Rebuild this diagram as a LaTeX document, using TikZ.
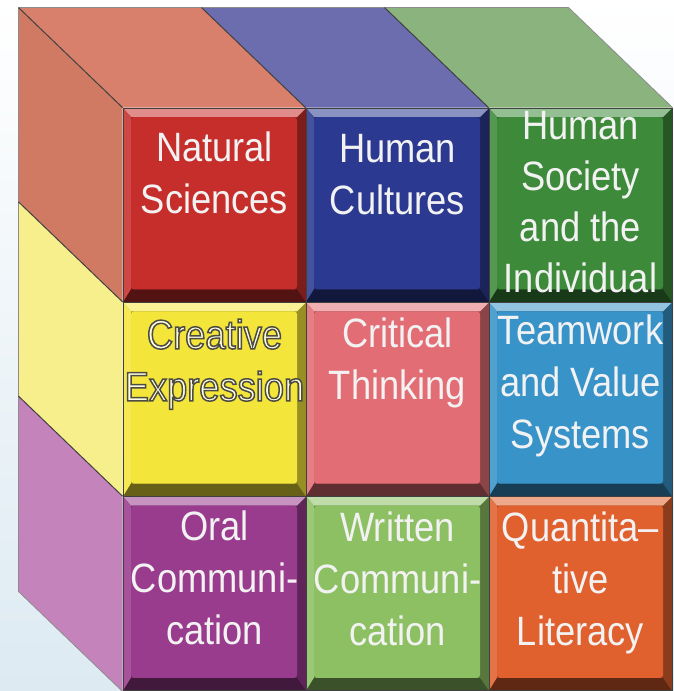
\documentclass[tikz,border=0pt]{standalone}
\usepackage{fontspec}
\usetikzlibrary{positioning,backgrounds}

\newfontfamily\cubefont{Liberation Sans}[FakeStretch=0.885]
% letters filled and stroked in one pass (text render mode 2)
\newcommand\outlined[1]{\special{pdf:literal direct 0.3 0.3 0.27 RG 1.5 w 2 Tr}#1\special{pdf:literal direct 0 Tr}}

\definecolor{natred}{HTML}{C62E2B}
\definecolor{cultblue}{HTML}{2B3990}
\definecolor{socgreen}{HTML}{3D8A3A}
\definecolor{creayellow}{HTML}{F4E53A}
\definecolor{critpink}{HTML}{E36D75}
\definecolor{teamblue}{HTML}{3893C9}
\definecolor{oralpurple}{HTML}{9A3C8E}
\definecolor{writgreen}{HTML}{8DC063}
\definecolor{quantorange}{HTML}{E0602E}
\definecolor{topred}{HTML}{D8806B}
\definecolor{topblue}{HTML}{6B6DAF}
\definecolor{topgreen}{HTML}{8BB37E}
\definecolor{sidered}{HTML}{D07A63}
\definecolor{sideyellow}{HTML}{F7EE8C}
\definecolor{sidepurple}{HTML}{C583BB}
\definecolor{bgblue}{HTML}{DDEAF2}

\begin{document}
\begin{tikzpicture}[
    x=1pt,y=-1pt,node distance=194.3pt and 183pt,on grid,
    cell/.style={rectangle,inner sep=0pt,minimum width=183pt,minimum height=194.3pt,
        fill=#1!62!black,draw=black!75,line width=1pt,
        path picture={
            \coordinate (nw) at (path picture bounding box.north west);
            \coordinate (ne) at (path picture bounding box.north east);
            \coordinate (sw) at (path picture bounding box.south west);
            \coordinate (se) at (path picture bounding box.south east);
            % bevelled rim: light on top, dark below
            \fill[#1!55!white] (nw) -- (ne) -- ([shift={(-9pt,-9pt)}]ne)
                -- ([shift={(8pt,-9pt)}]nw) -- cycle;
            \fill[#1!88!white] (nw) -- ([shift={(8pt,-9pt)}]nw)
                -- ([shift={(8pt,13pt)}]sw) -- (sw) -- cycle;
            \fill[#1!42!black] (sw) -- ([shift={(8pt,13pt)}]sw)
                -- ([shift={(-9pt,13pt)}]se) -- (se) -- cycle;
            \fill[#1,rounded corners=3pt] ([shift={(8pt,-9pt)}]nw)
                rectangle ([shift={(-9pt,13pt)}]se);
        }},
    caption/.style={anchor=north,inner sep=0pt,align=center,text=white!95!black,
        font=\cubefont\fontsize{41}{52}\selectfont},
    face/.style={draw=black!75,line width=1pt,line join=round},
    rim/.style={draw=black!45,line width=0.8pt,line join=round}
]
 \useasboundingbox (0,0) rectangle (674,691);

 % front of the cube
 \node[cell=natred] (nat) at (214.5,205.2) {};
 \node[cell=cultblue] (cult) [right=of nat] {};
 \node[cell=socgreen] (soc) [right=of cult] {};
 \node[cell=creayellow] (crea) [below=of nat] {};
 \node[cell=critpink] (crit) [right=of crea] {};
 \node[cell=teamblue] (team) [right=of crit] {};
 \node[cell=oralpurple] (oral) [below=of crea] {};
 \node[cell=writgreen] (writ) [right=of oral] {};
 \node[cell=quantorange] (quant) [right=of writ] {};

 \node[caption] (natT) at ([yshift=-24pt]nat.north) {Natural\\Sciences};
 \node[caption] (cultT) at ([yshift=-27pt]cult.north) {Human\\Cultures};
 \node[caption,font=\cubefont\fontsize{41}{51}\selectfont]
    (socT) at ([yshift=-4pt]soc.north) {Human\\Society\\and the\\Individual};
 \node[caption,text=white!88!yellow] (creaT) at ([yshift=-17pt]crea.north)
    {\outlined{Creative}\\\outlined{Expression}};
 \node[caption] (critT) at ([yshift=-16pt]crit.north) {Critical\\Thinking};
 \node[caption] (teamT) at ([yshift=-13pt]team.north) {Teamwork\\and Value\\Systems};
 \node[caption] (oralT) at ([yshift=-14pt]oral.north) {Oral\\Communi-\\cation};
 \node[caption] (writT) at ([yshift=-15pt]writ.north) {Written\\Communi-\\cation};
 \node[caption] (quantT) at ([yshift=-15pt]quant.north) {Quantita–\\tive\\Literacy};

 \begin{scope}[on background layer]
    \shade[top color=white,bottom color=bgblue] (0,0) rectangle (674,691);
    % top of the cube
    \fill[topred] (nat.north west) -- (nat.north east) -- ++(-104,-100)
        -- ([shift={(-104pt,100pt)}]nat.north west) -- cycle;
    \fill[topblue] (cult.north west) -- (cult.north east) -- ++(-104,-100)
        -- ([shift={(-104pt,100pt)}]cult.north west) -- cycle;
    \fill[topgreen] (soc.north west) -- (soc.north east) -- ++(-104,-100)
        -- ([shift={(-104pt,100pt)}]soc.north west) -- cycle;
    % left side of the cube
    \fill[sidered] (nat.north west) -- (nat.south west) -- ++(-104,-100)
        -- ([shift={(-104pt,100pt)}]nat.north west) -- cycle;
    \fill[sideyellow] (crea.north west) -- (crea.south west) -- ++(-104,-100)
        -- ([shift={(-104pt,100pt)}]crea.north west) -- cycle;
    \fill[sidepurple] (oral.north west) -- (oral.south west) -- ++(-104,-100)
        -- ([shift={(-104pt,100pt)}]oral.north west) -- cycle;

    \draw[rim] ([shift={(-104pt,100pt)}]nat.north west)
        -- ([shift={(-104pt,100pt)}]soc.north east) -- (soc.north east);
    \draw[rim] ([shift={(-104pt,100pt)}]nat.north west)
        -- ([shift={(-104pt,100pt)}]oral.south west) -- (oral.south west);
    \draw[face] (nat.north west) -- ++(-104,-100);
    \draw[face] (cult.north west) -- ++(-104,-100);
    \draw[face] (soc.north west) -- ++(-104,-100);
    \draw[face] (crea.north west) -- ++(-104,-100);
    \draw[face] (oral.north west) -- ++(-104,-100);
 \end{scope}
\end{tikzpicture}
\end{document}
